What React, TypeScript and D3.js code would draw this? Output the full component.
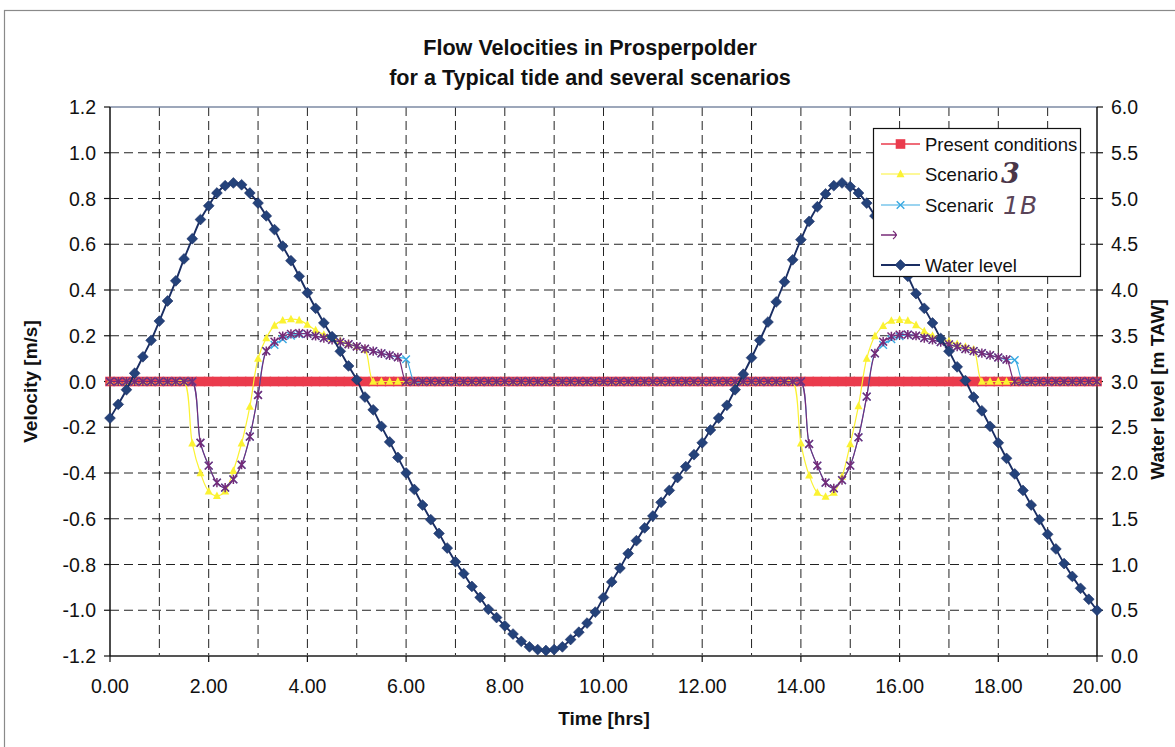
import React from "react";
import * as d3 from "d3";

// ---------- data ----------
const TITLE_LINES = ["Flow Velocities in Prosperpolder", "for a Typical tide and several scenarios"];
const X_LABEL = "Time [hrs]";
const Y_LEFT_LABEL = "Velocity [m/s]";
const Y_RIGHT_LABEL = "Water level [m TAW]";

const X_TICKS = [0, 2, 4, 6, 8, 10, 12, 14, 16, 18, 20];
const X_GRID = [1, 2, 3, 4, 5, 6, 7, 8, 9, 10, 11, 12, 13, 14, 15, 16, 17, 18, 19];
const Y_LEFT_TICKS = [-1.2, -1.0, -0.8, -0.6, -0.4, -0.2, 0.0, 0.2, 0.4, 0.6, 0.8, 1.0, 1.2];
const Y_RIGHT_TICKS = [0, 0.5, 1.0, 1.5, 2.0, 2.5, 3.0, 3.5, 4.0, 4.5, 5.0, 5.5, 6.0];

// one sample every 10 minutes, 0 .. 20 h (121 samples)
const STEP_HRS = 10 / 60;

const PRESENT = [
  0, 0, 0, 0, 0, 0, 0, 0, 0, 0,
  0, 0, 0, 0, 0, 0, 0, 0, 0, 0,
  0, 0, 0, 0, 0, 0, 0, 0, 0, 0,
  0, 0, 0, 0, 0, 0, 0, 0, 0, 0,
  0, 0, 0, 0, 0, 0, 0, 0, 0, 0,
  0, 0, 0, 0, 0, 0, 0, 0, 0, 0,
  0, 0, 0, 0, 0, 0, 0, 0, 0, 0,
  0, 0, 0, 0, 0, 0, 0, 0, 0, 0,
  0, 0, 0, 0, 0, 0, 0, 0, 0, 0,
  0, 0, 0, 0, 0, 0, 0, 0, 0, 0,
  0, 0, 0, 0, 0, 0, 0, 0, 0, 0,
  0, 0, 0, 0, 0, 0, 0, 0, 0, 0,
  0,
];

const SCENARIO_3 = [
  0, 0, 0, 0, 0, 0, 0, 0, 0, 0,
  -0.27, -0.40, -0.48, -0.50, -0.48, -0.39, -0.27, -0.11, 0.10, 0.19,
  0.245, 0.267, 0.273, 0.268, 0.249, 0.224, 0.205, 0.19, 0.178, 0.165,
  0.153, 0.14, 0, 0, 0, 0, 0, 0, 0, 0,
  0, 0, 0, 0, 0, 0, 0, 0, 0, 0,
  0, 0, 0, 0, 0, 0, 0, 0, 0, 0,
  0, 0, 0, 0, 0, 0, 0, 0, 0, 0,
  0, 0, 0, 0, 0, 0, 0, 0, 0, 0,
  0, 0, 0, 0, -0.27, -0.41, -0.486, -0.503, -0.486, -0.416,
  -0.273, -0.107, 0.10, 0.199, 0.243, 0.266, 0.27, 0.266, 0.247, 0.22,
  0.2, 0.188, 0.176, 0.164, 0.152, 0.14, 0, 0, 0, 0,
  0, 0, 0, 0, 0, 0, 0, 0, 0, 0,
  0,
];

const SCENARIO_1B = [
  0, 0, 0, 0, 0, 0, 0, 0, 0, 0,
  0, -0.268, -0.368, -0.442, -0.464, -0.428, -0.364, -0.241, -0.059, 0.133,
  0.16, 0.185, 0.2, 0.207, 0.208, 0.199, 0.19, 0.182, 0.172, 0.163,
  0.153, 0.143, 0.133, 0.123, 0.114, 0.106, 0.097, 0, 0, 0,
  0, 0, 0, 0, 0, 0, 0, 0, 0, 0,
  0, 0, 0, 0, 0, 0, 0, 0, 0, 0,
  0, 0, 0, 0, 0, 0, 0, 0, 0, 0,
  0, 0, 0, 0, 0, 0, 0, 0, 0, 0,
  0, 0, 0, 0, 0, -0.273, -0.368, -0.442, -0.467, -0.431,
  -0.368, -0.244, -0.066, 0.123, 0.16, 0.185, 0.198, 0.205, 0.2, 0.19,
  0.182, 0.172, 0.162, 0.152, 0.142, 0.133, 0.124, 0.115, 0.105, 0.096,
  0.094, 0, 0, 0, 0, 0, 0, 0, 0, 0,
  0,
];

const SCENARIO_4 = [
  0, 0, 0, 0, 0, 0, 0, 0, 0, 0,
  0, -0.268, -0.368, -0.442, -0.464, -0.428, -0.364, -0.241, -0.059, 0.133,
  0.174, 0.199, 0.208, 0.211, 0.208, 0.199, 0.19, 0.182, 0.172, 0.163,
  0.153, 0.143, 0.133, 0.123, 0.114, 0.106, 0, 0, 0, 0,
  0, 0, 0, 0, 0, 0, 0, 0, 0, 0,
  0, 0, 0, 0, 0, 0, 0, 0, 0, 0,
  0, 0, 0, 0, 0, 0, 0, 0, 0, 0,
  0, 0, 0, 0, 0, 0, 0, 0, 0, 0,
  0, 0, 0, 0, 0, -0.273, -0.368, -0.442, -0.467, -0.431,
  -0.368, -0.244, -0.066, 0.123, 0.174, 0.197, 0.205, 0.205, 0.2, 0.19,
  0.182, 0.172, 0.162, 0.152, 0.142, 0.133, 0.124, 0.115, 0.105, 0.096,
  0, 0, 0, 0, 0, 0, 0, 0, 0, 0,
  0,
];

const WATER_LEVEL = [
  2.60, 2.75, 2.91, 3.09, 3.27, 3.45, 3.66, 3.88, 4.10, 4.34,
  4.56, 4.77, 4.92, 5.06, 5.14, 5.17, 5.15, 5.06, 4.95, 4.81,
  4.66, 4.48, 4.32, 4.15, 3.97, 3.80, 3.64, 3.49, 3.33, 3.17,
  3.02, 2.83, 2.69, 2.51, 2.34, 2.17, 2.00, 1.82, 1.65, 1.49,
  1.34, 1.18, 1.03, 0.90, 0.76, 0.64, 0.51, 0.42, 0.33, 0.24,
  0.16, 0.10, 0.07, 0.06, 0.07, 0.10, 0.18, 0.26, 0.36, 0.48,
  0.64, 0.81, 0.96, 1.12, 1.26, 1.40, 1.53, 1.68, 1.81, 1.95,
  2.07, 2.20, 2.33, 2.47, 2.60, 2.74, 2.91, 3.08, 3.26, 3.45,
  3.65, 3.87, 4.09, 4.33, 4.55, 4.75, 4.91, 5.05, 5.14, 5.17,
  5.13, 5.06, 4.95, 4.81, 4.66, 4.48, 4.32, 4.15, 3.96, 3.80,
  3.64, 3.47, 3.33, 3.16, 3.01, 2.83, 2.68, 2.51, 2.33, 2.16,
  1.99, 1.81, 1.65, 1.49, 1.33, 1.17, 1.01, 0.87, 0.74, 0.62,
  0.50,
];

const LEGEND_NAMES = ["Present conditions", "Scenario", "Scenario", "", "Water level"];
const HAND_NOTES = ["3", "1B"];

// ---------- styles ----------
const C_RED = "#EA3B4D";
const C_YELLOW = "#FBF232";
const C_CYAN = "#38A9E2";
const C_PURPLE = "#772B78";
const C_NAVY_LINE = "#1A2E63";
const C_NAVY = "#24427A";
const FONT = "'Liberation Sans', Arial, sans-serif";

type MarkerKind = "square" | "triangle" | "x" | "star" | "diamond";

function Marker({ kind, cx, cy }: { kind: MarkerKind; cx: number; cy: number }) {
  if (kind === "square")
    return <rect x={cx - 4.8} y={cy - 4.8} width={9.6} height={9.6} fill={C_RED} />;
  if (kind === "triangle")
    return (
      <path
        d={`M${cx},${cy - 4.4}L${cx + 4},${cy + 3.2}L${cx - 4},${cy + 3.2}Z`}
        fill={C_YELLOW}
      />
    );
  if (kind === "x")
    return (
      <path
        d={`M${cx - 3.8},${cy - 3.8}L${cx + 3.8},${cy + 3.8}M${cx - 3.8},${cy + 3.8}L${cx + 3.8},${cy - 3.8}`}
        stroke={C_CYAN}
        strokeWidth={1.4}
        fill="none"
      />
    );
  if (kind === "star")
    return (
      <path
        d={`M${cx - 3.9},${cy - 3.9}L${cx + 3.9},${cy + 3.9}M${cx - 3.9},${cy + 3.9}L${cx + 3.9},${cy - 3.9}M${cx},${cy - 4.6}L${cx},${cy + 4.6}`}
        stroke={C_PURPLE}
        strokeWidth={1.5}
        fill="none"
      />
    );
  return (
    <path
      d={`M${cx},${cy - 5.4}L${cx + 5.4},${cy}L${cx},${cy + 5.4}L${cx - 5.4},${cy}Z`}
      fill={C_NAVY}
      stroke={C_NAVY_LINE}
      strokeWidth={0.6}
    />
  );
}

export default function App() {
  const W = 1175;
  const H = 747;
  const left = 110;
  const right = 1097;
  const top = 107;
  const bottom = 656;

  const x = d3.scaleLinear().domain([0, 20]).range([left, right]);
  const yL = d3.scaleLinear().domain([-1.2, 1.2]).range([bottom, top]);
  const yR = d3.scaleLinear().domain([0, 6]).range([bottom, top]);
  const times = WATER_LEVEL.map((_, i) => i * STEP_HRS);

  const curve = d3.curveCatmullRom.alpha(0.5);
  const lineL = d3
    .line<number>()
    .x((_, i) => x(times[i]))
    .y((d) => yL(d))
    .curve(curve);
  const lineR = d3
    .line<number>()
    .x((_, i) => x(times[i]))
    .y((d) => yR(d))
    .curve(curve);

  const series: { values: number[]; color: string; width: number; marker: MarkerKind; axis: "L" | "R" }[] = [
    { values: PRESENT, color: C_RED, width: 1.5, marker: "square", axis: "L" },
    { values: SCENARIO_3, color: C_YELLOW, width: 1.2, marker: "triangle", axis: "L" },
    { values: SCENARIO_1B, color: C_CYAN, width: 1.1, marker: "x", axis: "L" },
    { values: SCENARIO_4, color: C_PURPLE, width: 1.2, marker: "star", axis: "L" },
    { values: WATER_LEVEL, color: C_NAVY_LINE, width: 1.9, marker: "diamond", axis: "R" },
  ];

  const fmt1 = d3.format(".1f");
  const fmt2 = d3.format(".2f");

  // legend
  const lgX = 873.5;
  const lgY = 128.5;
  const lgW = 207;
  const lgH = 148;
  const lgRows = [144, 174, 205, 235, 265];
  const lgLine0 = 881;
  const lgLine1 = 920;
  const lgText = 925;

  return (
    <svg
      width={W}
      height={H}
      viewBox={`0 0 ${W} ${H}`}
      style={{ position: "absolute", left: 0, top: 0, background: "#fff" }}
    >
      <defs>
        <clipPath id="plotClip">
          <rect x={left - 7} y={top - 7} width={right - left + 14} height={bottom - top + 14} />
        </clipPath>
        <clipPath id="scenClip">
          <rect x={lgText} y={lgRows[2] - 16} width={68} height={30} />
        </clipPath>
      </defs>
      <rect x={0} y={0} width={W} height={H} fill="#fff" />
      {/* outer border of the page */}
      <rect x={4.5} y={10.5} width={W + 10} height={H + 10} fill="none" stroke="#8a8a8a" strokeWidth={1.2} />

      {/* title */}
      {TITLE_LINES.map((t, i) => (
        <text
          key={t}
          x={590}
          y={55 + i * 30}
          textAnchor="middle"
          fontFamily={FONT}
          fontWeight="bold"
          fontSize={21.6}
          fill="#111"
        >
          {t}
        </text>
      ))}

      {/* grid */}
      {X_GRID.map((h) => (
        <line
          key={"gx" + h}
          x1={x(h)}
          x2={x(h)}
          y1={top}
          y2={bottom}
          stroke="#222"
          strokeWidth={1}
          strokeDasharray="9,5"
        />
      ))}
      {Y_LEFT_TICKS.slice(1, -1).map((v) => (
        <line
          key={"gy" + v}
          x1={left}
          x2={right}
          y1={yL(v)}
          y2={yL(v)}
          stroke="#222"
          strokeWidth={1}
          strokeDasharray="9,5"
        />
      ))}

      {/* plot frame */}
      <line x1={left} x2={right} y1={top} y2={top} stroke="#7d8aa3" strokeWidth={1.5} />
      <line x1={left} x2={right} y1={bottom} y2={bottom} stroke="#555" strokeWidth={2} />
      <line x1={left} x2={left} y1={top} y2={bottom} stroke="#111" strokeWidth={1.5} />
      <line x1={right} x2={right} y1={top} y2={bottom} stroke="#111" strokeWidth={1.5} />

      {/* left axis */}
      {Y_LEFT_TICKS.map((v) => (
        <g key={"yl" + v}>
          <line x1={left - 6} x2={left} y1={yL(v)} y2={yL(v)} stroke="#111" strokeWidth={1.2} />
          <text
            x={left - 14}
            y={yL(v)}
            dy="0.36em"
            textAnchor="end"
            fontFamily={FONT}
            fontSize={19.5}
            fill="#111"
          >
            {fmt1(v).replace("−", "-")}
          </text>
        </g>
      ))}
      {/* right axis */}
      {Y_RIGHT_TICKS.map((v) => (
        <g key={"yr" + v}>
          <line x1={right} x2={right + 6} y1={yR(v)} y2={yR(v)} stroke="#111" strokeWidth={1.2} />
          <text
            x={right + 14}
            y={yR(v)}
            dy="0.36em"
            textAnchor="start"
            fontFamily={FONT}
            fontSize={19.5}
            fill="#111"
          >
            {fmt1(v)}
          </text>
        </g>
      ))}
      {/* bottom axis */}
      {X_TICKS.map((h) => (
        <g key={"xt" + h}>
          <line x1={x(h)} x2={x(h)} y1={bottom} y2={bottom + 6} stroke="#111" strokeWidth={1.2} />
          <text
            x={x(h)}
            y={693}
            textAnchor="middle"
            fontFamily={FONT}
            fontSize={19.5}
            fill="#111"
          >
            {fmt2(h)}
          </text>
        </g>
      ))}

      {/* axis titles */}
      <text
        transform={`translate(37,${(top + bottom) / 2}) rotate(-90)`}
        textAnchor="middle"
        fontFamily={FONT}
        fontWeight="bold"
        fontSize={19}
        fill="#111"
      >
        {Y_LEFT_LABEL}
      </text>
      <text
        transform={`translate(1164,${(top + bottom) / 2 + 8}) rotate(-90)`}
        textAnchor="middle"
        fontFamily={FONT}
        fontWeight="bold"
        fontSize={19}
        fill="#111"
      >
        {Y_RIGHT_LABEL}
      </text>
      <text
        x={604}
        y={725}
        textAnchor="middle"
        fontFamily={FONT}
        fontWeight="bold"
        fontSize={19}
        fill="#111"
      >
        {X_LABEL}
      </text>

      {/* series */}
      <g clipPath="url(#plotClip)">
        {series.map((s, si) => {
          const y = s.axis === "L" ? yL : yR;
          const path = s.axis === "L" ? lineL(s.values) : lineR(s.values);
          return (
            <g key={"s" + si}>
              <path d={path || ""} fill="none" stroke={s.color} strokeWidth={s.width} />
              {s.values.map((v, i) => (
                <Marker key={i} kind={s.marker} cx={x(times[i])} cy={y(v)} />
              ))}
            </g>
          );
        })}
      </g>

      {/* legend */}
      <rect x={lgX} y={lgY} width={lgW} height={lgH} fill="#fff" stroke="#111" strokeWidth={1.2} />
      {series.map((s, i) => {
        const cy = lgRows[i];
        const cx = (lgLine0 + lgLine1) / 2;
        if (i === 3) {
          return (
            <g key={"lg" + i}>
              <line x1={lgLine0} x2={lgLine0 + 16} y1={cy} y2={cy} stroke={s.color} strokeWidth={1.5} />
              <path
                d={`M${lgLine0 + 12},${cy - 4}Q${lgLine0 + 18},${cy} ${lgLine0 + 12},${cy + 4}`}
                stroke={s.color}
                strokeWidth={1.3}
                fill="none"
              />
            </g>
          );
        }
        return (
          <g key={"lg" + i}>
            <line x1={lgLine0} x2={lgLine1} y1={cy} y2={cy} stroke={s.color} strokeWidth={s.width} />
            <Marker kind={s.marker} cx={cx} cy={cy} />
            {LEGEND_NAMES[i] && (
              <text
                x={lgText}
                y={cy}
                dy="0.36em"
                fontFamily={FONT}
                fontSize={18.5}
                fill="#111"
                clipPath={i === 2 ? "url(#scenClip)" : undefined}
              >
                {LEGEND_NAMES[i]}
              </text>
            )}
          </g>
        );
      })}
      {/* handwritten annotations */}
      <text
        x={1001}
        y={lgRows[1] + 9}
        fontFamily="'DejaVu Serif', serif"
        fontStyle="italic"
        fontWeight="bold"
        fontSize={27}
        fill="#4a3648"
      >
        {HAND_NOTES[0]}
      </text>
      <text
        x={1003}
        y={lgRows[2] + 9}
        fontFamily="'DejaVu Sans', sans-serif"
        fontStyle="italic"
        fontSize={25}
        letterSpacing={1}
        fill="#5a4458"
      >
        {HAND_NOTES[1]}
      </text>
    </svg>
  );
}
